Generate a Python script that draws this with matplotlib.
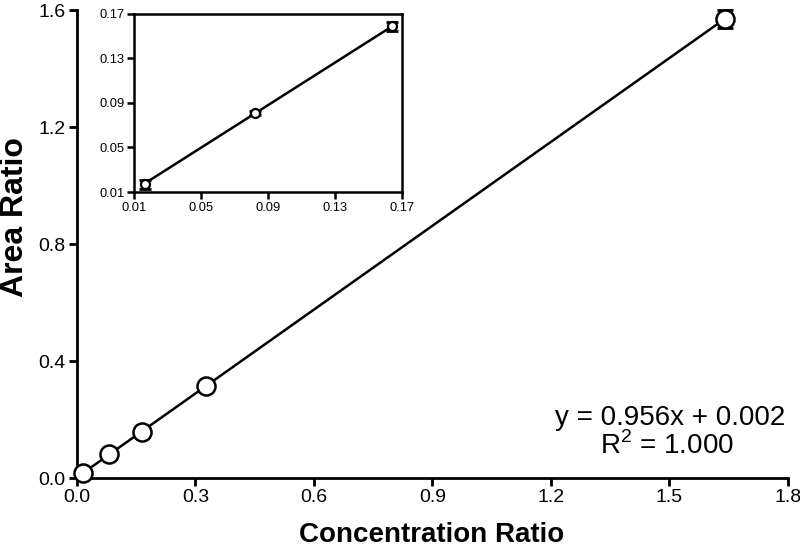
import numpy as np
import matplotlib
matplotlib.use("Agg")
import matplotlib.pyplot as plt

plt.rcParams['font.family'] = ['Liberation Sans', 'DejaVu Sans']
plt.rcParams['mathtext.fontset'] = 'custom'
plt.rcParams['mathtext.rm'] = 'Liberation Sans'

# calibration points (concentration ratio vs area ratio)
conc_ratio = [0.0164, 0.082, 0.164, 0.328, 1.64]
area_ratio = [0.017, 0.081, 0.159, 0.314, 1.570]
area_err = [0.004, 0.002, 0.004, 0.004, 0.030]

slope = 0.956
intercept = 0.002

main_xticks = [0.0, 0.3, 0.6, 0.9, 1.2, 1.5, 1.8]
main_yticks = [0.0, 0.4, 0.8, 1.2, 1.6]
inset_ticks = [0.01, 0.05, 0.09, 0.13, 0.17]

fig = plt.figure(figsize=(8, 5.48), dpi=100)
ax = fig.add_axes([0.096, 0.1277, 0.889, 0.854])

x = np.array(conc_ratio)
y = np.array(area_ratio)
err = np.array(area_err)

xfit = np.array([x.min(), x.max()])
ax.plot(xfit, slope * xfit + intercept, color='black', lw=1.8, zorder=2)
ax.errorbar(x, y, yerr=err, fmt='none', ecolor='black', elinewidth=1.8,
            capsize=6, capthick=2, zorder=3, clip_on=False)
ax.plot(x, y, 'o', ms=13, mfc='white', mec='black', mew=1.8, zorder=4,
        clip_on=False)

ax.set_xlim(0, 1.8)
ax.set_ylim(0, 1.6)
ax.set_xticks(main_xticks)
ax.set_xticklabels([f"{t:.1f}" for t in main_xticks])
ax.set_yticks(main_yticks)
ax.set_yticklabels([f"{t:.1f}" for t in main_yticks])
for side in ['top', 'right']:
    ax.spines[side].set_visible(False)
for side in ['left', 'bottom']:
    ax.spines[side].set_linewidth(2)
ax.tick_params(direction='out', length=6, width=2, labelsize=14, pad=2)

# axis titles placed in figure coords
fig.text(0.539, 0.011, "Concentration Ratio", ha='center', va='baseline',
         fontsize=20, fontweight='bold')
fig.text(0.019, 1 - 217 / 548, "Area Ratio", ha='center', va='center',
         rotation=90, fontsize=23, fontweight='bold')

fig.text(670 / 800, 1 - 425 / 548, "y = 0.956x + 0.002", ha='center',
         va='baseline', fontsize=20)
fig.text(667 / 800, 1 - 454 / 548, r"R$^{\mathrm{2}}$ = 1.000", ha='center',
         va='baseline', fontsize=20)

# inset: the three low points
ins = fig.add_axes([0.1675, 0.6496, 0.335, 0.325])
xi = x[:3]
yi = y[:3]
ei = err[:3]
xi_fit = np.array([xi.min(), xi.max()])
ins.plot(xi_fit, slope * xi_fit + intercept, color='black', lw=1.8, zorder=2)
ins.errorbar(xi, yi, yerr=ei, fmt='none', ecolor='black', elinewidth=1.5,
             capsize=4, capthick=2, zorder=3)
ins.plot(xi, yi, 'o', ms=6.5, mfc='white', mec='black', mew=1.6, zorder=4)
ins.set_xlim(0.01, 0.17)
ins.set_ylim(0.01, 0.17)
ins.set_xticks(inset_ticks)
ins.set_xticklabels([f"{t:.2f}" for t in inset_ticks])
ins.set_yticks(inset_ticks)
ins.set_yticklabels([f"{t:.2f}" for t in inset_ticks])
for side in ins.spines.values():
    side.set_linewidth(1.8)
ins.tick_params(direction='out', length=5, width=1.8, labelsize=9.3, pad=2)

fig.savefig("out.png", dpi=100)
